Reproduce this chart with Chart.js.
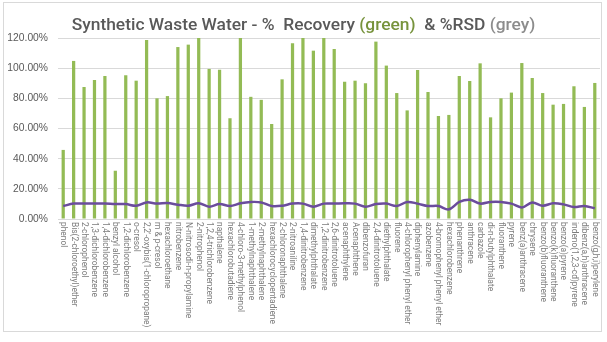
<!DOCTYPE html>
<html>
<head>
<meta charset="utf-8">
<script src="https://cdn.jsdelivr.net/npm/chart.js@4"></script>
<style>
  html, body { margin: 0; padding: 0; background: #fff; }
  #wrap { position: relative; width: 607px; height: 342px; overflow: hidden; }
  #frame { position: absolute; left: 3px; top: 2px; width: 599px; height: 330px; border: 1px solid #d9d9d9; box-sizing: border-box; }
  #title { position: absolute; left: 0; top: 15px; width: 607px; text-align: center; font: 500 17.4px Roboto, sans-serif; line-height: 18px; color: #595959; white-space: pre; }
  #title .g { color: #77933c; }
  #title .r { color: #8c8c8c; }
  canvas { position: absolute; left: 0; top: 0; }
</style>
</head>
<body>
<div id="wrap">
  <div id="frame"></div>
  <canvas id="c" width="607" height="342"></canvas>
  <div id="title">Synthetic Waste Water - %  Recovery <span class="g">(green)</span>  &amp; %RSD <span class="r">(grey)</span></div>
</div>
<script>
// Compounds, in run order
const categories = [
  "phenol", "Bis(2-chloroethyl)ether", "2-chlorophenol", "1,3-dichlorobenzene",
  "1,4-dichlorobenzene", "benzyl alcohol", "1,2-dichlorobenzene", "o-cresol",
  "2,2'-oxybis(1-chloropropane)", "m & p-cresol", "hexachloroethane", "nitrobenzene",
  "N-nitrosodi-n-propylamine", "2-nitrophenol", "1,2,4-trichlorobenzene", "napthalene",
  "hexachlorobutadiene", "4-chloro-3-methylphenol", "1-methylnaphthalene", "2-methylnaphthalene",
  "hexachlorocyclopentadiene", "2-chloronaphthalene", "2-nitroaniline", "1,4-dinitrobenzene",
  "dimethylphthalate", "1,2-dinitrobenzene", "2,6-dinitrotoluene", "acenaphthylene",
  "Acenaphthene", "dibenzofuran", "2,4-dinitrotoluene", "diethylphthalate",
  "fluorene", "4-chlorophenyl phenyl ether", "diphenylamine", "azobenzene",
  "4-bromophenyl phenyl ether", "hexachlorobenzene", "phenanthrene", "anthracene",
  "carbazole", "di-n-butylphthalate", "fluoranthene", "pyrene",
  "benz(a)anthracene", "chrysene", "benzo(b)fluoranthene", "benzo(k)fluoranthene",
  "benzo(a)pyrene", "indeno(1,2,3-cd)pyrene", "dibenz(a,h)anthracene", "benzo(g,h,i)perylene"
];

// % Recovery
const recovery = [
  45.8, 104.8, 87.5, 92.2, 94.8, 32.0, 95.3, 91.7,
  118.7, 80.0, 81.5, 114.0, 115.6, 121.0, 99.5, 99.0,
  66.8, 121.0, 81.0, 79.0, 63.0, 92.6, 116.5, 121.0,
  111.6, 121.0, 112.7, 91.0, 91.7, 90.0, 117.6, 101.7,
  83.5, 72.0, 98.8, 84.2, 68.3, 69.0, 94.8, 91.5,
  103.2, 67.4, 80.0, 83.8, 103.4, 93.5, 83.5, 75.8,
  76.3, 88.0, 74.3, 90.2
];

// %RSD
const rsd = [
  8.6, 10.2, 10.2, 10.2, 10.2, 9.9, 9.9, 8.8,
  11.0, 10.2, 10.6, 9.5, 8.8, 10.4, 8.2, 9.9,
  8.6, 10.4, 11.3, 11.0, 8.6, 8.8, 10.2, 10.2,
  8.2, 10.2, 10.2, 10.4, 10.2, 8.2, 9.9, 10.2,
  8.6, 11.3, 10.2, 8.6, 8.6, 6.4, 11.3, 12.8,
  10.2, 11.3, 11.3, 10.2, 7.7, 11.0, 8.8, 10.4,
  9.7, 7.9, 8.6, 7.1
];

// Value axis ticks (percent)
const yTickValues = [0, 20, 40, 60, 80, 100, 120];

// Category labels run top-to-bottom below the axis
const downwardLabels = {
  id: 'downwardLabels',
  afterDraw(chart) {
    const xs = chart.scales.x;
    const ctx = chart.ctx;
    ctx.save();
    ctx.font = '8.4px Roboto, sans-serif';
    ctx.fillStyle = '#7d7d7d';
    ctx.textAlign = 'left';
    ctx.textBaseline = 'middle';
    chart.data.labels.forEach((lab, i) => {
      const x = xs.getPixelForValue(i);
      ctx.save();
      ctx.translate(x, xs.top + 3);
      ctx.rotate(Math.PI / 2);
      ctx.fillText(lab, 0, 0);
      ctx.restore();
    });
    ctx.restore();
  }
};

new Chart(document.getElementById('c'), {
  data: {
    labels: categories,
    datasets: [
      {
        type: 'line', label: '%RSD', data: rsd,
        borderColor: '#6a4c9c', borderWidth: 2.5,
        pointRadius: 0, tension: 0.35, order: 0
      },
      {
        type: 'bar', label: '% Recovery', data: recovery,
        backgroundColor: '#93bb55',
        barPercentage: 0.31, categoryPercentage: 1, order: 1
      }
    ]
  },
  options: {
    responsive: false,
    animation: false,
    layout: { padding: { left: 0, top: 38, right: 7, bottom: 9 } },
    plugins: { legend: { display: false }, tooltip: { enabled: false }, title: { display: false } },
    scales: {
      x: {
        grid: { display: false },
        border: { display: true, color: '#d9d9d9' },
        ticks: { display: false },
        afterFit(s) { s.height = 114; }
      },
      y: {
        min: 0, max: 120,
        afterBuildTicks(s) { s.ticks = yTickValues.map(v => ({ value: v })); },
        ticks: {
          padding: 10,
          color: '#595959',
          font: { family: 'Liberation Sans', size: 10.3 },
          callback: v => v.toFixed(2) + '%'
        },
        grid: { color: '#d9d9d9', drawTicks: false },
        border: { display: false },
        afterFit(s) { s.width = 58; }
      }
    }
  },
  plugins: [downwardLabels]
});
</script>
</body>
</html>
